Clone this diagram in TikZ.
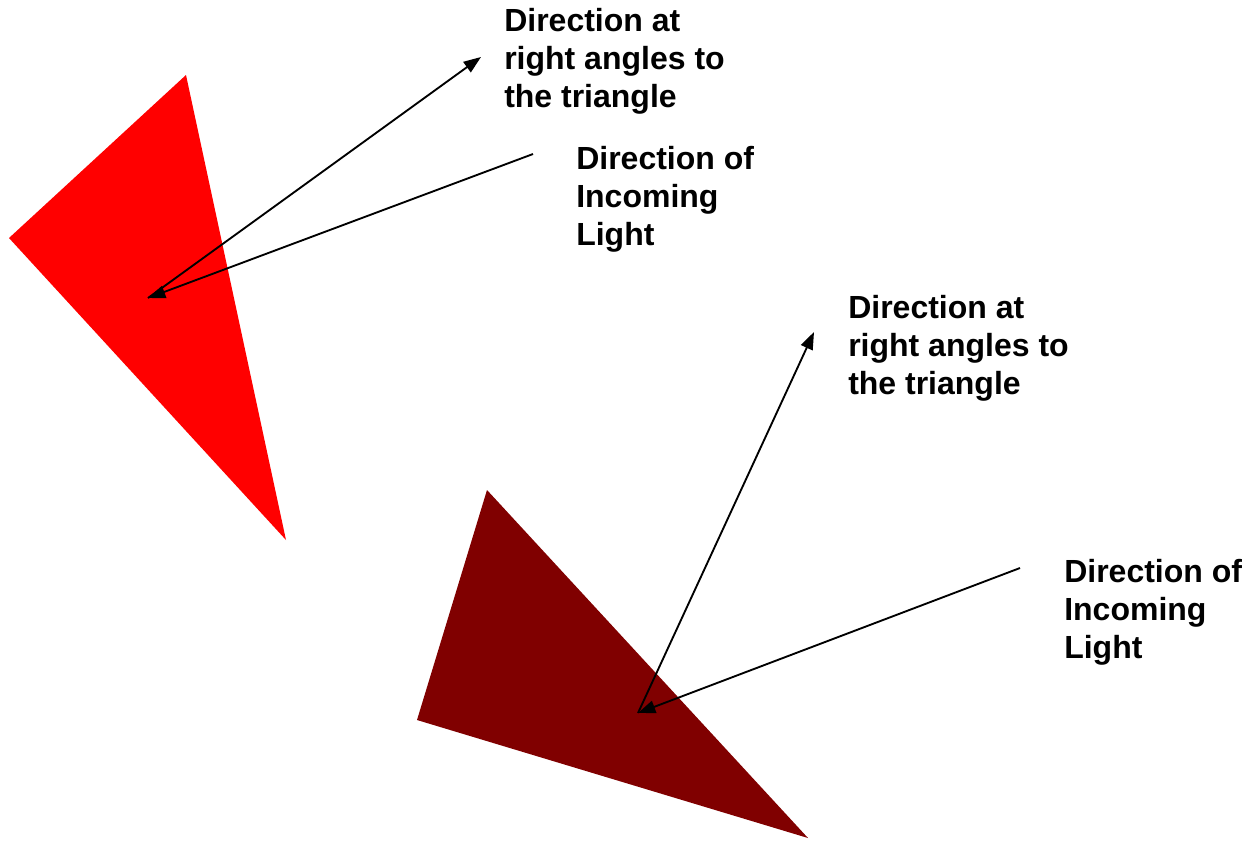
\documentclass[tikz,border=0pt]{standalone}
\usepackage{fontspec}
\setmainfont{Liberation Sans}
\usetikzlibrary{arrows.meta}

\begin{document}
\begin{tikzpicture}[x=0.75pt,y=-0.75pt,
  ray/.style={line width=1.4pt,-{Triangle[length=13pt,width=9.5pt]}},
  lbl/.style={anchor=base west,inner sep=0pt,align=left,font=\fontsize{24}{28.5}\selectfont\bfseries}]
\useasboundingbox (0,0) rectangle (1256,840);

% Upper triangle (bright red) with its normal and incoming ray
\fill[red] (186,75) -- (9,238) -- (286,540) -- cycle;
\coordinate (redhit) at (148,298);
\coordinate (rednorm) at (481,57);
\coordinate (redlight) at (533,154);
\node [lbl] (rednormlbl) at (504,107) {Direction at\\right angles to\\the triangle};
\node [lbl] (redlightlbl) at (576,245) {Direction of\\Incoming\\Light};
\draw[ray] (redhit) -- (rednorm);
\draw[ray] (redlight) -- (redhit);

% Lower triangle (dark red) with its normal and incoming ray
\fill[red!50!black] (487,490) -- (417,720) -- (808,838) -- cycle;
\coordinate (darkhit) at (638,713);
\coordinate (darknorm) at (814,332);
\coordinate (darklight) at (1020,568);
\node [lbl] (darknormlbl) at (848,394) {Direction at\\right angles to\\the triangle};
\node [lbl] (darklightlbl) at (1064,658) {Direction of\\Incoming\\Light};
\draw[ray] (darkhit) -- (darknorm);
\draw[ray] (darklight) -- (darkhit);

\end{tikzpicture}
\end{document}
